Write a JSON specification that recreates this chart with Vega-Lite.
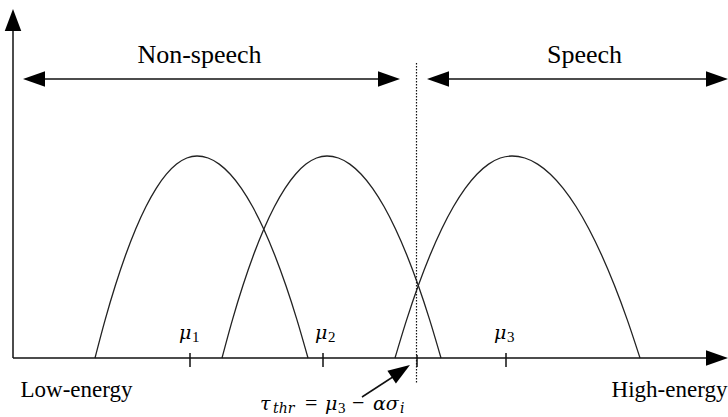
{
  "$schema": "https://vega.github.io/schema/vega-lite/v6.json",
  "width": 728,
  "height": 417,
  "padding": 0,
  "autosize": {"type": "fit", "contains": "padding"},
  "background": "white",
  "config": {"view": {"stroke": null}},
  "datasets": {
    "curves": [
      {"c": "A", "x": 95, "v": 0}, {"c": "A", "x": 105.2, "v": 38.4}, {"c": "A", "x": 115.4, "v": 72.7}, {"c": "A", "x": 125.6, "v": 103}, {"c": "A", "x": 135.8, "v": 129.3}, {"c": "A", "x": 146, "v": 151.5}, {"c": "A", "x": 156.2, "v": 169.7}, {"c": "A", "x": 166.4, "v": 183.8}, {"c": "A", "x": 176.6, "v": 193.9}, {"c": "A", "x": 186.8, "v": 200}, {"c": "A", "x": 197, "v": 202},
      {"c": "A", "x": 208.1, "v": 200}, {"c": "A", "x": 219.2, "v": 193.9}, {"c": "A", "x": 230.3, "v": 183.8}, {"c": "A", "x": 241.4, "v": 169.7}, {"c": "A", "x": 252.5, "v": 151.5}, {"c": "A", "x": 263.6, "v": 129.3}, {"c": "A", "x": 274.7, "v": 103}, {"c": "A", "x": 285.8, "v": 72.7}, {"c": "A", "x": 296.9, "v": 38.4}, {"c": "A", "x": 308, "v": 0},
      {"c": "B", "x": 222, "v": 0}, {"c": "B", "x": 232.5, "v": 38.4}, {"c": "B", "x": 243, "v": 72.7}, {"c": "B", "x": 253.5, "v": 103}, {"c": "B", "x": 264, "v": 129.3}, {"c": "B", "x": 274.5, "v": 151.5}, {"c": "B", "x": 285, "v": 169.7}, {"c": "B", "x": 295.5, "v": 183.8}, {"c": "B", "x": 306, "v": 193.9}, {"c": "B", "x": 316.5, "v": 200}, {"c": "B", "x": 327, "v": 202},
      {"c": "B", "x": 338.4, "v": 200}, {"c": "B", "x": 349.8, "v": 193.9}, {"c": "B", "x": 361.2, "v": 183.8}, {"c": "B", "x": 372.6, "v": 169.7}, {"c": "B", "x": 384, "v": 151.5}, {"c": "B", "x": 395.4, "v": 129.3}, {"c": "B", "x": 406.8, "v": 103}, {"c": "B", "x": 418.2, "v": 72.7}, {"c": "B", "x": 429.6, "v": 38.4}, {"c": "B", "x": 441, "v": 0},
      {"c": "C", "x": 395, "v": 0}, {"c": "C", "x": 406.7, "v": 38.4}, {"c": "C", "x": 418.4, "v": 72.7}, {"c": "C", "x": 430.1, "v": 103}, {"c": "C", "x": 441.8, "v": 129.3}, {"c": "C", "x": 453.5, "v": 151.5}, {"c": "C", "x": 465.2, "v": 169.7}, {"c": "C", "x": 476.9, "v": 183.8}, {"c": "C", "x": 488.6, "v": 193.9}, {"c": "C", "x": 500.3, "v": 200}, {"c": "C", "x": 512, "v": 202},
      {"c": "C", "x": 524.8, "v": 200}, {"c": "C", "x": 537.6, "v": 193.9}, {"c": "C", "x": 550.4, "v": 183.8}, {"c": "C", "x": 563.2, "v": 169.7}, {"c": "C", "x": 576, "v": 151.5}, {"c": "C", "x": 588.8, "v": 129.3}, {"c": "C", "x": 601.6, "v": 103}, {"c": "C", "x": 614.4, "v": 72.7}, {"c": "C", "x": 627.2, "v": 38.4}, {"c": "C", "x": 640, "v": 0}
    ],
    "segs": [
      {"x": 13, "x2": 712, "v": 0, "v2": 0},
      {"x": 13, "x2": 13, "v": 0, "v2": 330},
      {"x": 40, "x2": 383, "v": 279, "v2": 279},
      {"x": 445, "x2": 712, "v": 279, "v2": 279},
      {"x": 190, "x2": 190, "v": 5, "v2": -9},
      {"x": 323, "x2": 323, "v": 5, "v2": -9},
      {"x": 506, "x2": 506, "v": 5, "v2": -9},
      {"x": 417, "x2": 417, "v": 3, "v2": -9},
      {"x": 362, "x2": 402, "v": -39, "v2": -13}
    ],
    "dots": [
      {"x": 416.5, "x2": 416.5, "v": 295, "v2": -25}
    ],
    "heads": [
      {"x": 13, "v": 338, "dir": "up", "ang": 0},
      {"x": 717, "v": 0, "dir": "right", "ang": 0},
      {"x": 34, "v": 279, "dir": "left", "ang": 0},
      {"x": 389, "v": 279, "dir": "right", "ang": 0},
      {"x": 438, "v": 279, "dir": "left", "ang": 0},
      {"x": 717, "v": 279, "dir": "right", "ang": 0},
      {"x": 400.8, "v": -13.1, "dir": "right", "ang": 326.3}
    ],
    "texts": [
      {"k": "top", "x": 199.5, "v": 303, "t": "Non-speech"},
      {"k": "top", "x": 584.5, "v": 303, "t": "Speech"},
      {"k": "bottom", "x": 76.5, "v": -32, "t": "Low-energy"},
      {"k": "bottom", "x": 669.5, "v": -32, "t": "High-energy"},
      {"k": "math", "x": 260, "v": -52, "t": "τ"},
      {"k": "math", "x": 325, "v": -52, "t": "μ"},
      {"k": "math", "x": 373, "v": -52, "t": "ασ"},
      {"k": "math", "x": 179, "v": 19, "t": "μ"},
      {"k": "math", "x": 315, "v": 19, "t": "μ"},
      {"k": "math", "x": 494, "v": 19, "t": "μ"},
      {"k": "op", "x": 305, "v": -52, "t": "="},
      {"k": "op", "x": 352, "v": -52, "t": "−"},
      {"k": "subi", "x": 273, "v": -55, "t": "thr"},
      {"k": "subi", "x": 400, "v": -55, "t": "i"},
      {"k": "subn", "x": 338, "v": -55, "t": "3"},
      {"k": "subn", "x": 192, "v": 16, "t": "1"},
      {"k": "subn", "x": 328, "v": 16, "t": "2"},
      {"k": "subn", "x": 507, "v": 16, "t": "3"}
    ]
  },
  "layer": [
    {
      "data": {"name": "curves"},
      "mark": {"type": "line", "interpolate": "monotone", "color": "#222222", "strokeWidth": 1.3},
      "encoding": {
        "x": {"field": "x", "type": "quantitative", "scale": {"domain": [0, 728], "nice": false, "zero": false}, "axis": null},
        "y": {"field": "v", "type": "quantitative", "scale": {"domain": [-59, 358], "nice": false, "zero": false}, "axis": null},
        "detail": {"field": "c"},
        "order": {"field": "x", "type": "quantitative"}
      }
    },
    {
      "data": {"name": "segs"},
      "mark": {"type": "rule", "color": "#111111", "strokeWidth": 1.5},
      "encoding": {
        "x": {"field": "x", "type": "quantitative", "scale": {"domain": [0, 728], "nice": false, "zero": false}, "axis": null},
        "x2": {"field": "x2"},
        "y": {"field": "v", "type": "quantitative", "scale": {"domain": [-59, 358], "nice": false, "zero": false}, "axis": null},
        "y2": {"field": "v2"}
      }
    },
    {
      "data": {"name": "dots"},
      "mark": {"type": "rule", "color": "#111111", "strokeWidth": 1.2, "strokeDash": [1.5, 1.5]},
      "encoding": {
        "x": {"field": "x", "type": "quantitative", "scale": {"domain": [0, 728], "nice": false, "zero": false}, "axis": null},
        "x2": {"field": "x2"},
        "y": {"field": "v", "type": "quantitative", "scale": {"domain": [-59, 358], "nice": false, "zero": false}, "axis": null},
        "y2": {"field": "v2"}
      }
    },
    {
      "data": {"name": "heads"},
      "mark": {"type": "point", "filled": true, "color": "#000000", "opacity": 1, "size": 484, "strokeWidth": 0},
      "encoding": {
        "x": {"field": "x", "type": "quantitative", "scale": {"domain": [0, 728], "nice": false, "zero": false}, "axis": null},
        "y": {"field": "v", "type": "quantitative", "scale": {"domain": [-59, 358], "nice": false, "zero": false}, "axis": null},
        "shape": {"field": "dir", "type": "nominal", "legend": null, "scale": {"domain": ["up", "right", "left"], "range": ["M0,-1L-0.75,1L0.75,1Z", "M1,0L-1,-0.7L-1,0.7Z", "M-1,0L1,-0.7L1,0.7Z"]}},
        "angle": {"field": "ang", "type": "quantitative", "scale": null}
      }
    },
    {
      "data": {"name": "texts"},
      "transform": [{"filter": "datum.k === 'top'"}],
      "mark": {"type": "text", "font": "Liberation Serif", "fontSize": 26, "align": "center", "baseline": "middle", "color": "#000000"},
      "encoding": {
        "x": {"field": "x", "type": "quantitative", "scale": {"domain": [0, 728], "nice": false, "zero": false}, "axis": null},
        "y": {"field": "v", "type": "quantitative", "scale": {"domain": [-59, 358], "nice": false, "zero": false}, "axis": null},
        "text": {"field": "t"}
      }
    },
    {
      "data": {"name": "texts"},
      "transform": [{"filter": "datum.k === 'bottom'"}],
      "mark": {"type": "text", "font": "Liberation Serif", "fontSize": 23, "align": "center", "baseline": "middle", "color": "#000000"},
      "encoding": {
        "x": {"field": "x", "type": "quantitative", "scale": {"domain": [0, 728], "nice": false, "zero": false}, "axis": null},
        "y": {"field": "v", "type": "quantitative", "scale": {"domain": [-59, 358], "nice": false, "zero": false}, "axis": null},
        "text": {"field": "t"}
      }
    },
    {
      "data": {"name": "texts"},
      "transform": [{"filter": "datum.k === 'math'"}],
      "mark": {"type": "text", "font": "DejaVu Serif", "fontStyle": "italic", "fontSize": 19, "align": "left", "baseline": "alphabetic", "color": "#000000"},
      "encoding": {
        "x": {"field": "x", "type": "quantitative", "scale": {"domain": [0, 728], "nice": false, "zero": false}, "axis": null},
        "y": {"field": "v", "type": "quantitative", "scale": {"domain": [-59, 358], "nice": false, "zero": false}, "axis": null},
        "text": {"field": "t"}
      }
    },
    {
      "data": {"name": "texts"},
      "transform": [{"filter": "datum.k === 'op'"}],
      "mark": {"type": "text", "font": "Liberation Serif", "fontSize": 22, "align": "left", "baseline": "alphabetic", "color": "#000000"},
      "encoding": {
        "x": {"field": "x", "type": "quantitative", "scale": {"domain": [0, 728], "nice": false, "zero": false}, "axis": null},
        "y": {"field": "v", "type": "quantitative", "scale": {"domain": [-59, 358], "nice": false, "zero": false}, "axis": null},
        "text": {"field": "t"}
      }
    },
    {
      "data": {"name": "texts"},
      "transform": [{"filter": "datum.k === 'subi'"}],
      "mark": {"type": "text", "font": "DejaVu Serif", "fontStyle": "italic", "fontSize": 14, "align": "left", "baseline": "alphabetic", "color": "#000000"},
      "encoding": {
        "x": {"field": "x", "type": "quantitative", "scale": {"domain": [0, 728], "nice": false, "zero": false}, "axis": null},
        "y": {"field": "v", "type": "quantitative", "scale": {"domain": [-59, 358], "nice": false, "zero": false}, "axis": null},
        "text": {"field": "t"}
      }
    },
    {
      "data": {"name": "texts"},
      "transform": [{"filter": "datum.k === 'subn'"}],
      "mark": {"type": "text", "font": "Liberation Serif", "fontSize": 15, "align": "left", "baseline": "alphabetic", "color": "#000000"},
      "encoding": {
        "x": {"field": "x", "type": "quantitative", "scale": {"domain": [0, 728], "nice": false, "zero": false}, "axis": null},
        "y": {"field": "v", "type": "quantitative", "scale": {"domain": [-59, 358], "nice": false, "zero": false}, "axis": null},
        "text": {"field": "t"}
      }
    }
  ]
}
